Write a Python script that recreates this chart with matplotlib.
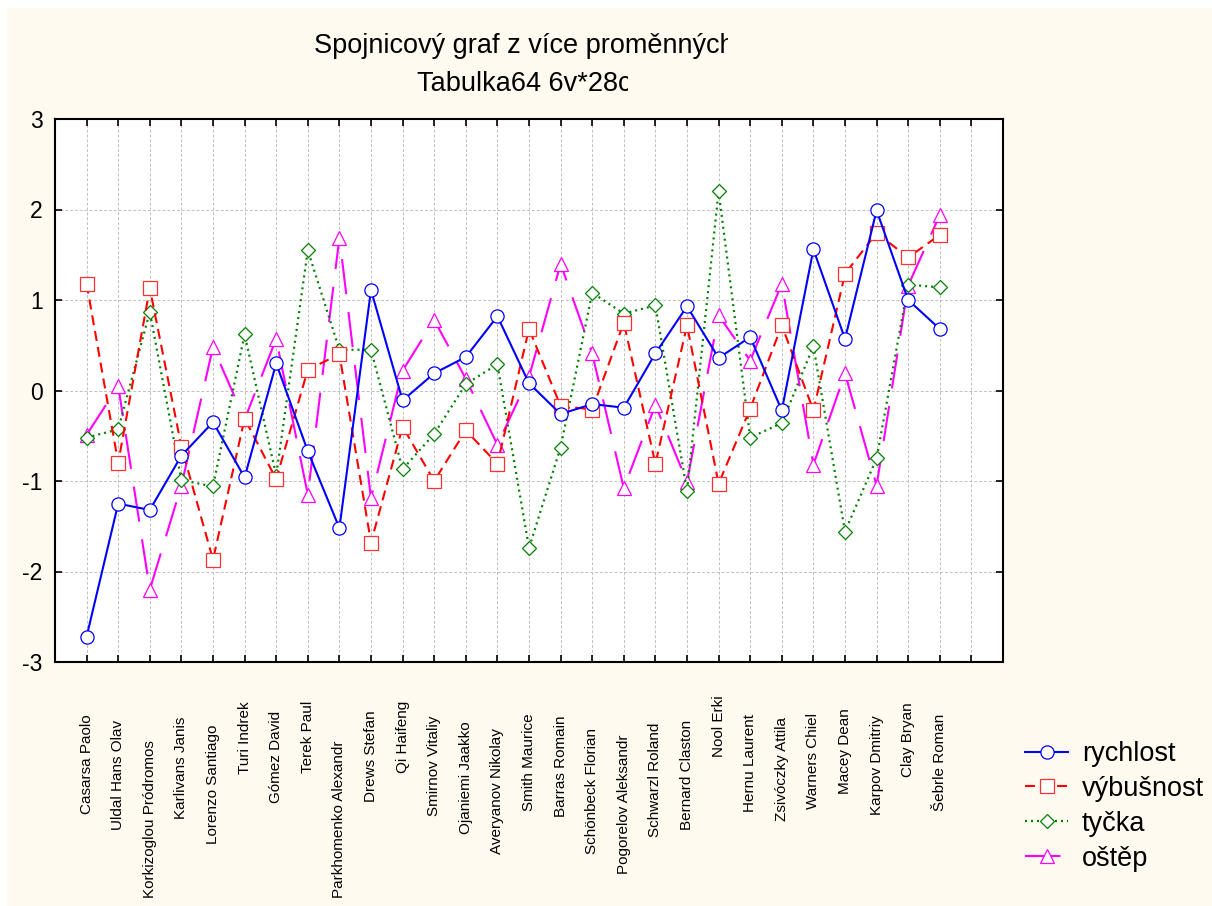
import matplotlib.pyplot as plt
from matplotlib.transforms import Bbox, TransformedBbox, blended_transform_factory
from matplotlib.patches import Rectangle

names = ["Casarsa Paolo", "Uldal Hans Olav", "Korkizoglou Pródromos", "Karlivans Janis",
         "Lorenzo Santiago", "Turi Indrek", "Gómez David", "Terek Paul",
         "Parkhomenko Alexandr", "Drews Stefan", "Qi Haifeng", "Smirnov Vitaliy",
         "Ojaniemi Jaakko", "Averyanov Nikolay", "Smith Maurice", "Barras Romain",
         "Schönbeck Florian", "Pogorelov Aleksandr", "Schwarzl Roland", "Bernard Claston",
         "Nool Erki", "Hernu Laurent", "Zsivóczky Attila", "Warners Chiel",
         "Macey Dean", "Karpov Dmitriy", "Clay Bryan", "Šebrle Roman"]

rychlost = [-2.72, -1.25, -1.32, -0.72, -0.35, -0.96, 0.30, -0.67, -1.52, 1.11,
            -0.11, 0.19, 0.37, 0.82, 0.08, -0.26, -0.15, -0.19, 0.41, 0.93,
            0.36, 0.59, -0.22, 1.56, 0.57, 1.99, 1.00, 0.68]
vybusnost = [1.18, -0.80, 1.13, -0.62, -1.87, -0.31, -0.98, 0.23, 0.40, -1.68,
             -0.40, -1.00, -0.44, -0.81, 0.68, -0.17, -0.21, 0.75, -0.81, 0.72,
             -1.03, -0.20, 0.72, -0.22, 1.29, 1.74, 1.47, 1.72]
tycka = [-0.52, -0.43, 0.87, -0.99, -1.06, 0.62, -0.94, 1.55, 0.45, 0.45,
         -0.87, -0.48, 0.07, 0.29, -1.74, -0.63, 1.08, 0.85, 0.94, -1.11,
         2.20, -0.52, -0.36, 0.49, -1.56, -0.75, 1.17, 1.14]
ostep = [-0.49, 0.05, -2.20, -1.05, 0.48, -0.32, 0.57, -1.15, 1.69, -1.19,
         0.22, 0.78, 0.13, -0.60, 0.15, 1.40, 0.41, -1.08, -0.16, -1.01,
         0.83, 0.33, 1.18, -0.82, 0.19, -1.05, 1.16, 1.94]

y_ticks = [-3, -2, -1, 0, 1, 2, 3]

W, H = 1212, 906
plt.rcParams['font.family'] = ['Liberation Sans', 'DejaVu Sans']

fig = plt.figure(figsize=(W / 100, H / 100), dpi=100, facecolor='#FFFAF0')
# thin white strip along top and left edge
fig.patches.append(Rectangle((0, 1 - 8 / H), 1, 8 / H, transform=fig.transFigure,
                             facecolor='white', edgecolor='none', zorder=0))
fig.patches.append(Rectangle((0, 0), 7 / W, 1, transform=fig.transFigure,
                             facecolor='white', edgecolor='none', zorder=0))

ax = fig.add_axes([55 / W, 1 - 662 / H, (1003 - 55) / W, (662 - 119) / H])
ax.set_facecolor('white')

x = list(range(1, len(names) + 1))

ax.plot(x, rychlost, color='#0000FF', lw=1.5, marker='o', ms=9.5,
        mfc='white', mec='#0000FF', mew=0.9, label='rychlost', zorder=5)
ax.plot(x, vybusnost, color='#FF0000', lw=1.5, ls=(0, (4.8, 2.9)), marker='s', ms=9.5,
        mfc='white', mec='#FF3030', mew=0.9, label='výbušnost', zorder=4)
ax.plot(x, tycka, color='#008000', lw=1.6, ls=(0, (0.9, 1.8)), marker='D', ms=7.5,
        mfc='white', mec='#008000', mew=0.9, label='tyčka', zorder=3)
ax.plot(x, ostep, color='#FF00FF', lw=1.5, ls=(0, (17, 8.6)), marker='^', ms=10.5,
        mfc='white', mec='#FF00FF', mew=0.9, label='oštěp', zorder=2)

ax.set_xlim(0, 30)
ax.set_ylim(-3, 3)
ax.set_xticks(range(1, 30))
ax.set_xticklabels([])
ax.set_yticks(y_ticks)
ax.set_yticklabels([str(v) for v in y_ticks], fontsize=16.5)
ax.tick_params(direction='in', length=5, width=1.2, top=True, right=True, pad=9)
ax.grid(True, color='#C0C0C0', ls=(0, (3, 2)), lw=0.7)
for s in ax.spines.values():
    s.set_linewidth(1.5)

# rotated category labels, staggered the way the original places them
lab_tr = blended_transform_factory(ax.transData, fig.transFigure)
labels = []
for i, n in enumerate(names):
    t = ax.text(i + 1, 0.1, n, transform=lab_tr, rotation=90, ha='center', va='center',
                fontsize=11, clip_on=False)
    labels.append(t)

fig.canvas.draw()
r = fig.canvas.get_renderer()
for t in labels:
    L = t.get_window_extent(r).height
    centre = min(665 + L, 898 - L / 2)   # keep the longest names inside the figure
    t.set_y(1 - centre / H)

# title lines, clipped on the right as in the original
title1 = fig.text(524 / W, 1 - 46 / H, 'Spojnicový graf z více proměnných',
                  ha='center', va='center', fontsize=19.5)
title1.set_clip_box(TransformedBbox(Bbox([[0, 0], [728 / W, 1]]), fig.transFigure))
title1.set_clip_on(True)
title2 = fig.text(524 / W, 1 - 84 / H, 'Tabulka64 6v*28c',
                  ha='center', va='center', fontsize=19.5)
title2.set_clip_box(TransformedBbox(Bbox([[0, 0], [628 / W, 1]]), fig.transFigure))
title2.set_clip_on(True)

fig.legend(loc='upper left', bbox_to_anchor=(1025 / W, 1 - 741 / H), frameon=False,
           fontsize=19.5, handlelength=1.6, handletextpad=0.5, labelspacing=0.33,
           borderaxespad=0, borderpad=0)

fig.savefig('out.png', dpi=100, facecolor=fig.get_facecolor())
